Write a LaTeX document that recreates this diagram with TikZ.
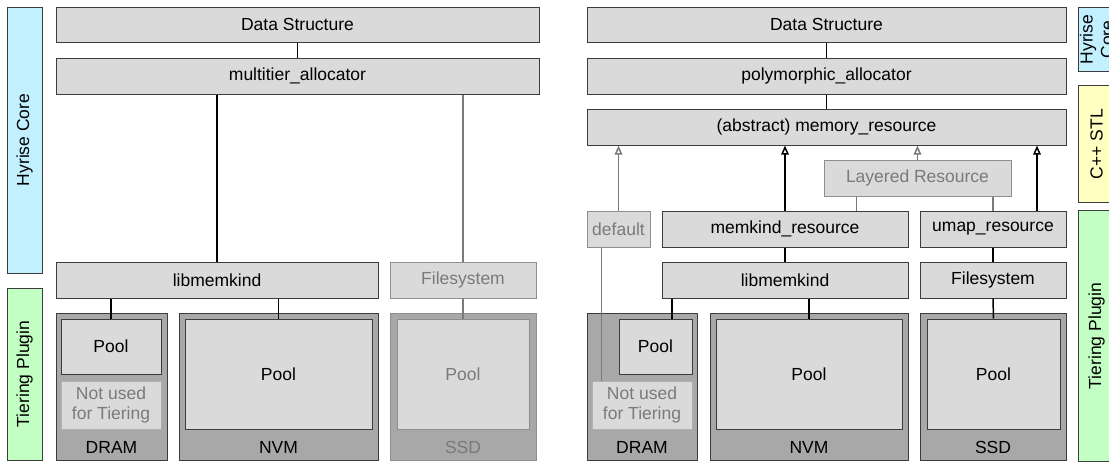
\documentclass[tikz,border=0pt]{standalone}
\usepackage{fontspec}
\setmainfont{Liberation Sans}
\usetikzlibrary{arrows.meta,calc}

\definecolor{boxfill}{HTML}{DADADA}
\definecolor{memfill}{HTML}{A8A8A8}
\definecolor{edge}{HTML}{3C3C3C}
\definecolor{dimedge}{HTML}{8E8E8E}
\definecolor{dimtext}{HTML}{7A7A7A}
\definecolor{corefill}{HTML}{C2F0FF}
\definecolor{stlfill}{HTML}{FFFFC2}
\definecolor{plugfill}{HTML}{C2FFC2}

\tikzset{
  every node/.style={font=\fontsize{17.5}{20.5}\selectfont, inner sep=0pt, align=center},
  box/.style={draw=edge, fill=boxfill, line width=1pt},
  dimbox/.style={draw=dimedge, fill=boxfill, line width=1pt, text=dimtext},
  unused/.style={draw=dimedge!70, fill=boxfill, line width=1pt, text=dimtext},
  membox/.style={draw=edge, fill=memfill, line width=1pt},
  dimmem/.style={draw=dimedge, fill=memfill, line width=1pt},
  layerbar/.style={draw=edge, line width=1pt},
  link/.style={draw=black, line width=1.5pt},
  dimlink/.style={draw=dimtext, line width=1.5pt},
  inherit/.style={-{Triangle[open, length=9pt, width=7.5pt]}},
  memlabel/.style={anchor=base, yshift=7pt},
}

\begin{document}
\begin{tikzpicture}[x=1pt, y=-1pt]
\path[use as bounding box] (0,0) rectangle (1109,461);
\clip (0,0) rectangle (1109,461);

% ---------- layer bars, left ----------
\node[layerbar, fill=corefill, minimum width=35, minimum height=266] (lcore) at (24.5,140) {};
\node[rotate=90] at (lcore.center) {Hyrise Core};
\node[layerbar, fill=plugfill, minimum width=35, minimum height=172] (lplug) at (24.5,374) {};
\node[rotate=90] at (lplug.center) {Tiering Plugin};

% ---------- layer bars, right ----------
\node[layerbar, fill=corefill, minimum width=36, minimum height=64, anchor=north west] (rcore) at (1078,7) {};
\node[rotate=90] at (rcore.center) {Hyrise\\Core};
\node[layerbar, fill=stlfill, minimum width=36, minimum height=117, anchor=north west] (rstl) at (1078,85) {};
\node[rotate=90] at (rstl.center) {C++ STL};
\node[layerbar, fill=plugfill, minimum width=36, minimum height=251, anchor=north west] (rplug) at (1078,210) {};
\node[rotate=90] at (rplug.center) {Tiering Plugin};

% ---------- left stack: multitier allocator ----------
\node[box, minimum width=483, minimum height=35] (lds) at (297.5,24.5) {Data Structure};
\node[box, minimum width=483, minimum height=36] (lma) at (297.5,76) {multitier\_allocator};
\node[box, minimum width=322, minimum height=36] (llib) at (217,280) {libmemkind};
\node[dimbox, minimum width=146, minimum height=36] (lfs) at (463,280) {Filesystem};

\node[membox, minimum width=111, minimum height=147] (ldram) at (111.5,386.5) {};
\node[memlabel] at (ldram.south) {DRAM};
\node[box, minimum width=100, minimum height=55] (ldpool) at (111,346.5) {Pool};
\node[unused, minimum width=100, minimum height=48] (lnot) at (111,405) {Not used\\for Tiering};

\node[membox, minimum width=199, minimum height=147] (lnvm) at (278.5,386.5) {};
\node[memlabel] at (lnvm.south) {NVM};
\node[box, minimum width=187, minimum height=110] (lnpool) at (278.5,374) {Pool};

\node[dimmem, minimum width=146, minimum height=147] (lssd) at (463,386.5) {};
\node[memlabel, text=dimtext] at (lssd.south) {SSD};
\node[dimbox, minimum width=132, minimum height=110] (lspool) at (463,374) {Pool};

\draw[link] (lds.south) -- (lma.north);
\draw[link] (llib.north |- lma.south) -- (llib.north);
\draw[dimlink] (lfs.north |- lma.south) -- (lfs.north);
\draw[link] (ldpool.north |- llib.south) -- (ldpool.north);
\draw[link] (lnpool.north |- llib.south) -- (lnpool.north);
\draw[dimlink] (lfs.south) -- (lspool.north);

% ---------- right stack: polymorphic allocator ----------
\node[box, minimum width=479, minimum height=35] (rds) at (826.5,24.5) {Data Structure};
\node[box, minimum width=479, minimum height=36] (rpa) at (826.5,76) {polymorphic\_allocator};
\node[box, minimum width=479, minimum height=36] (rmr) at (826.5,127) {(abstract) memory\_resource};
\node[dimbox, minimum width=187, minimum height=36] (rlay) at (917.5,178) {Layered Resource};
\node[dimbox, minimum width=63, minimum height=36] (rdef) at (618.5,229) {default};
\node[box, minimum width=246, minimum height=36] (rmk) at (785,229) {memkind\_resource};
\node[box, minimum width=146, minimum height=36] (rum) at (993,229) {umap\_resource};
\node[box, minimum width=246, minimum height=36] (rlib) at (785,280) {libmemkind};
\node[box, minimum width=146, minimum height=36] (rfs) at (993,280) {Filesystem};

\node[membox, minimum width=110, minimum height=147] (rdram) at (642,386.5) {};
\node[memlabel] at (rdram.south) {DRAM};
\node[box, minimum width=73, minimum height=55] (rdpool) at (655.5,346.5) {Pool};
\node[unused, minimum width=100, minimum height=48] (rnot) at (642,405) {Not used\\for Tiering};

\node[membox, minimum width=198, minimum height=147] (rnvm) at (809,386.5) {};
\node[memlabel] at (rnvm.south) {NVM};
\node[box, minimum width=186, minimum height=110] (rnpool) at (809,374) {Pool};

\node[membox, minimum width=146, minimum height=147] (rssd) at (993,386.5) {};
\node[memlabel] at (rssd.south) {SSD};
\node[box, minimum width=133, minimum height=110] (rspool) at (993.5,374) {Pool};

% connectors
\draw[link] (rds.south) -- (rpa.north);
\draw[link] (rpa.south) -- (rmr.north);
\draw[dimlink, inherit] (rdef.north) -- (rdef.north |- rmr.south);
\draw[link, inherit] (rmk.north) -- (rmk.north |- rmr.south);
\draw[dimlink, inherit] (rlay.north) -- (rlay.north |- rmr.south);
\coordinate (umtop) at ([xshift=44]rum.north);
\draw[link, inherit] (umtop) -- (umtop |- rmr.south);
\coordinate (laymk) at ([xshift=33]rlay.south west);
\draw[dimlink] (laymk) -- (laymk |- rmk.north);
\draw[dimlink] (rum.north |- rlay.south) -- (rum.north);
\draw[link] (rmk.south) -- (rlib.north);
\draw[link] (rum.south) -- (rfs.north);
\draw[link] (rfs.south) -- (rspool.north);
\coordinate (dpooltop) at ($(rdpool.north west)!0.726!(rdpool.north east)$);
\draw[link] (dpooltop |- rlib.south) -- (dpooltop);
\draw[link] (rnpool.north |- rlib.south) -- (rnpool.north);
\coordinate (defdown) at ([xshift=15]rdef.south west);
\draw[dimlink] (defdown) -- (defdown |- rnot.north);

\end{tikzpicture}
\end{document}
